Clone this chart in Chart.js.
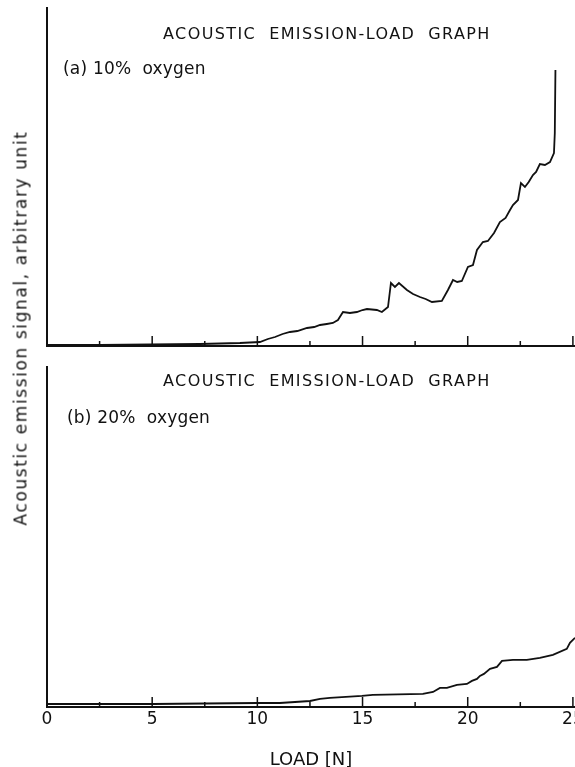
<!DOCTYPE html>
<html>
<head>
<meta charset="utf-8">
<script src="https://cdn.jsdelivr.net/npm/chart.js@4.4.0/dist/chart.umd.min.js"></script>
<style>
  html, body { margin: 0; padding: 0; background: #fff; }
  body { width: 575px; height: 767px; overflow: hidden; position: relative; font-family: "DejaVu Sans", sans-serif; color: #111; }
  .panel { position: absolute; left: 0; }
  .txt { position: absolute; white-space: pre; line-height: 1; }
  #ylabel { left: 21px; top: 328px; transform: translate(-50%, -50%) rotate(-90deg); font-size: 17px; letter-spacing: 1.6px; }
</style>
</head>
<body>
<div class="panel" style="top:0"><canvas id="chartA" width="600" height="360"></canvas></div>
<div class="panel" style="top:355px"><canvas id="chartB" width="600" height="416"></canvas></div>

<div class="txt" style="left:163px;top:26px;font-size:16px;letter-spacing:1.4px">ACOUSTIC  EMISSION-LOAD  GRAPH</div>
<div class="txt" style="left:63px;top:60px;font-size:17px;letter-spacing:0.2px">(a) 10%  oxygen</div>
<div class="txt" style="left:163px;top:373px;font-size:16px;letter-spacing:1.4px">ACOUSTIC  EMISSION-LOAD  GRAPH</div>
<div class="txt" style="left:67px;top:409px;font-size:17px;letter-spacing:0.2px">(b) 20%  oxygen</div>
<div class="txt" id="ylabel">Acoustic emission signal, arbitrary unit</div>

<script>
// load axis ticks (N), labels only on every 5
const loadTicks = [0, 2.5, 5, 7.5, 10, 12.5, 15, 17.5, 20, 22.5, 25];
const loadMax = 25.1;

// (a) 10% oxygen
const loadA = [0, 2.52, 4.9, 7.27, 9.17, 10.12, 10.5, 10.84, 11.2, 11.55, 11.9, 12.36, 12.7, 12.98, 13.3, 13.59, 13.83, 14.07, 14.4, 14.73, 15.0, 15.21, 15.68, 15.92, 16.21, 16.35, 16.54, 16.73, 17.11, 17.4, 17.73, 18.0, 18.3, 18.77, 19.06, 19.3, 19.5, 19.72, 20.01, 20.25, 20.44, 20.72, 20.96, 21.25, 21.53, 21.8, 22.01, 22.15, 22.39, 22.53, 22.72, 22.9, 23.1, 23.25, 23.43, 23.67, 23.91, 24.1, 24.14, 24.17];
const signalA = [1, 1, 1.5, 2, 3, 4, 7, 9, 12, 14, 15, 18, 19, 21, 22, 23, 26, 34, 33, 34, 36, 37, 36, 34, 39, 63, 59, 63, 56, 52, 49, 47, 44, 45, 56, 66, 64, 65, 79, 81, 96, 104, 105, 113, 124, 128, 136, 141, 146, 163, 159, 164, 171, 174, 182, 181, 184, 193, 213, 276];

// (b) 20% oxygen
const loadB = [0, 2.52, 5.04, 7.5, 10.03, 11.07, 12.5, 12.98, 13.45, 14.97, 15.49, 17.87, 18.35, 18.68, 19.01, 19.49, 19.96, 20.2, 20.44, 20.58, 20.77, 21.06, 21.39, 21.63, 22.15, 22.81, 23.43, 24.05, 24.71, 24.86, 25.1];
const signalB = [3, 3, 3, 3.5, 4, 4, 6, 8, 9, 11, 12, 13, 15, 19, 19, 22, 23, 26, 28, 31, 33, 38, 40, 46, 47, 47, 49, 52, 58, 64, 69];

const ink = '#111';

// tick marks point up into the plot
const innerTicks = {
  id: 'innerTicks',
  afterDraw(chart) {
    const ctx = chart.ctx, sx = chart.scales.x, area = chart.chartArea;
    ctx.save();
    ctx.strokeStyle = ink;
    ctx.lineWidth = 1.5;
    sx.ticks.forEach(t => {
      const x = sx.getPixelForValue(t.value);
      const len = t.value % 5 === 0 ? 10 : 5;
      ctx.beginPath();
      ctx.moveTo(x, area.bottom);
      ctx.lineTo(x, area.bottom - len);
      ctx.stroke();
    });
    ctx.restore();
  }
};

function makeChart(id, xs, ys, yMax, withLabels, pad) {
  return new Chart(document.getElementById(id), {
    type: 'line',
    data: {
      datasets: [{
        data: xs.map((x, i) => ({ x: x, y: ys[i] })),
        borderColor: ink,
        borderWidth: 1.8,
        pointRadius: 0,
        tension: 0,
        fill: false
      }]
    },
    options: {
      responsive: false,
      animation: false,
      layout: { padding: pad },
      plugins: { legend: { display: false }, tooltip: { enabled: false } },
      scales: {
        x: {
          type: 'linear',
          min: 0,
          max: loadMax,
          afterBuildTicks: scale => { scale.ticks = loadTicks.map(v => ({ value: v })); },
          grid: { display: false, drawTicks: false },
          border: { display: true, color: ink, width: 2 },
          ticks: {
            display: withLabels,
            padding: 2,
            color: ink,
            font: { family: 'DejaVu Sans', size: 17 },
            maxRotation: 0,
            autoSkip: false,
            callback: v => (v % 5 === 0 ? String(v) : '')
          },
          title: {
            display: withLabels,
            text: 'LOAD [N]',
            color: ink,
            font: { family: 'DejaVu Sans', size: 18 },
            padding: { top: 18, bottom: 0 }
          }
        },
        y: {
          min: 0,
          max: yMax,
          grid: { display: false, drawTicks: false },
          border: { display: true, color: ink, width: 2 },
          ticks: { display: false }
        }
      }
    },
    plugins: [innerTicks]
  });
}

makeChart('chartA', loadA, signalA, 338, false, { left: 47, right: 25, top: 8, bottom: 14 });
makeChart('chartB', loadB, signalB, 339, true, { left: 47, right: 25, top: 12, bottom: 0 });
</script>
</body>
</html>
